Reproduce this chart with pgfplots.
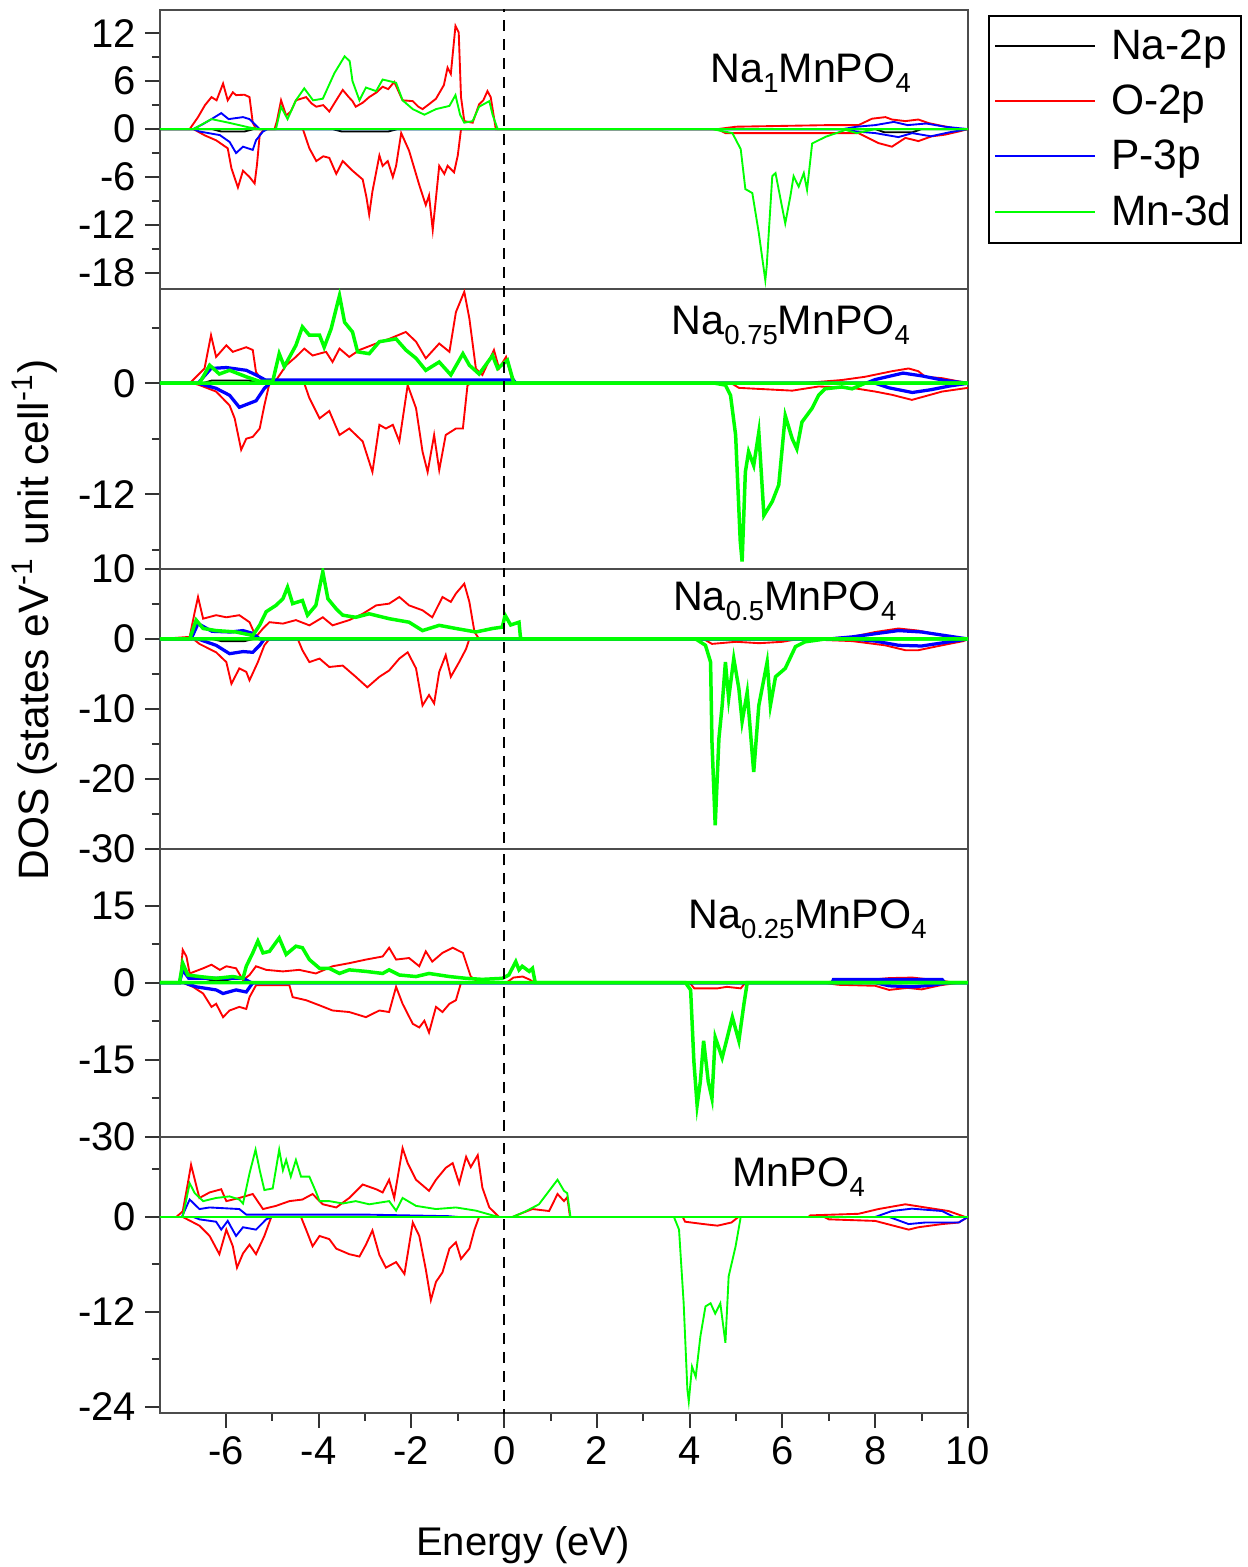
\documentclass[border=0pt]{standalone}
\usepackage{pgfplots}
\pgfplotsset{compat=1.18}
\usepackage{fontspec}
\setmainfont{Liberation Sans}
\definecolor{dgreen}{RGB}{0,255,0}
\definecolor{dred}{RGB}{255,0,0}
\definecolor{dblue}{RGB}{0,0,255}
\tikzset{
  rd/.style={color=dred, line width=0.75pt},
  bl/.style={color=dblue, line width=0.75pt},
  blT/.style={color=dblue, line width=1.3pt},
  gr/.style={color=dgreen, line width=0.75pt},
  grT/.style={color=dgreen, line width=1.4pt},
  bk/.style={color=black, line width=0.75pt},
}
\pgfplotsset{
  dos/.style={scale only axis, width=323.2pt, xmin=-7.42, xmax=10,
    axis line style={black!70, line width=1pt},
    tick style={black!80, line width=0.8pt},
    tick align=outside, major tick length=6pt, minor tick length=3.2pt,
    ytick pos=left, xtick pos=left,
    minor y tick num=1,
    tick label style={font=\fontsize{16}{19}\selectfont},
    /pgf/number format/assume math mode=true,
    anchor=south west,
    xtick=\empty,
  },
}
\newcommand{\zeroline}{\draw[black, line width=0.8pt, dash pattern=on 4.4pt off 3.2pt] (axis cs:0,-40) -- (axis cs:0,40);}
\newcommand{\lab}[3]{\node[font=\fontsize{16.5}{19}\selectfont] at (axis cs:#1,#2) {#3};}
\newcommand{\sub}[1]{\raisebox{-0.45ex}{\fontsize{11}{12}\selectfont #1}}
\begin{document}
\begin{tikzpicture}
\path[use as bounding box] (0,0) rectangle (499.2pt,626.8pt);

% ---------------- Panel 1: Na1MnPO4
\begin{axis}[dos, at={(64pt,511.2pt)}, height=111.6pt, ymin=-20, ymax=14.9,
  ytick={-18,-12,-6,0,6,12},
  legend style={at={(1,1)}, anchor=north west, xshift=8pt, yshift=-2pt, draw=black, line width=0.8pt,
    font=\fontsize{17}{20}\selectfont, inner xsep=2pt, inner ysep=3.5pt, row sep=4.6pt, cells={anchor=west}},
  legend image code/.code={\draw[#1, line width=0.8pt] (0pt,0pt) -- (40pt,0pt); \path (44pt,0pt);}]
\addlegendimage{black}\addlegendentry{Na-2p}
\addlegendimage{dred}\addlegendentry{O-2p}
\addlegendimage{dblue}\addlegendentry{P-3p}
\addlegendimage{dgreen}\addlegendentry{Mn-3d}
\addplot[bk] coordinates {(-7.42,0)(-6.3,0)(-6.1,-0.3)(-5.6,-0.3)(-5.4,0)(-3.7,0)(-3.5,-0.3)(-2.5,-0.3)(-2.3,0)(8.0,0)(8.2,-0.4)(8.8,-0.4)(9.0,0)(10,0)};
\addplot[rd] coordinates {(-7.42,0)(-6.78,0)(-6.6,1.5)(-6.45,3.0)(-6.31,4.0)(-6.2,3.6)(-6.06,5.7)(-5.96,3.6)(-5.85,4.6)(-5.78,4.25)(-5.6,4.3)(-5.49,4.0)(-5.42,0.8)(-5.35,0)(-4.95,0)(-4.9,1.0)(-4.81,3.6)(-4.70,1.7)(-4.6,2.2)(-4.49,3.6)(-4.27,4.0)(-4.15,3.2)(-4.05,2.8)(-3.9,3.0)(-3.77,2.2)(-3.6,3.8)(-3.48,4.9)(-3.35,4.0)(-3.27,3.5)(-3.2,2.8)(-3.05,3.3)(-2.91,4.0)(-2.75,4.6)(-2.62,5.3)(-2.5,5.0)(-2.37,5.9)(-2.19,3.6)(-1.97,3.5)(-1.85,2.8)(-1.76,2.5)(-1.6,3.2)(-1.47,3.8)(-1.3,5.5)(-1.22,7.7)(-1.15,6.9)(-1.05,12.9)(-0.98,12.1)(-0.93,4.0)(-0.86,1.0)(-0.68,0.8)(-0.54,3.1)(-0.45,3.6)(-0.36,4.75)(-0.29,4.0)(-0.18,0)(4.6,0)(5,0.3)(6,0.4)(7,0.5)(7.64,0.5)(7.93,1.3)(8.22,1.5)(8.36,1.2)(8.65,1.0)(8.93,1.2)(9.15,0.75)(9.44,0.4)(9.8,0)(10,0)};
\addplot[rd] coordinates {(-7.42,0)(-6.7,0)(-6.45,-0.8)(-6.21,-1.4)(-5.96,-2.4)(-5.88,-4.9)(-5.74,-7.3)(-5.63,-5.2)(-5.49,-6.0)(-5.38,-6.8)(-5.33,-4.5)(-5.27,-0.7)(-5.17,0)(-4.34,0)(-4.20,-2.4)(-4.05,-4.0)(-3.9,-3.4)(-3.77,-3.6)(-3.62,-5.6)(-3.48,-4.0)(-3.27,-5.2)(-3.05,-6.3)(-2.97,-8.5)(-2.91,-10.7)(-2.84,-7.8)(-2.69,-3.3)(-2.62,-4.6)(-2.51,-4.0)(-2.40,-6.0)(-2.33,-4.6)(-2.22,-0.5)(-2.05,-2.7)(-1.83,-7.0)(-1.69,-9.5)(-1.62,-8.3)(-1.54,-12.6)(-1.47,-8.6)(-1.40,-4.6)(-1.29,-5.6)(-1.22,-4.6)(-1.08,-5.4)(-1.0,-3.3)(-0.93,0)(4.6,0)(4.77,-0.5)(6.21,-0.5)(7.64,-0.5)(8.07,-1.75)(8.36,-2.2)(8.65,-1.1)(8.93,-1.5)(9.22,-0.9)(9.5,-0.7)(9.8,-0.3)(10,0)};
\addplot[bl] coordinates {(-7.42,0)(-6.7,0)(-6.5,0.6)(-6.31,1.25)(-6.10,2.0)(-5.94,1.25)(-5.63,1.5)(-5.49,1.25)(-5.27,0)(7.3,0)(7.6,0.3)(8.0,0.5)(8.4,0.9)(8.7,0.5)(9.1,0.7)(9.5,0.3)(10,0)};
\addplot[bl] coordinates {(-7.42,0)(-6.7,0)(-6.57,-0.3)(-6.13,-0.75)(-5.92,-1.6)(-5.78,-3.0)(-5.63,-2.2)(-5.42,-2.6)(-5.35,-1.4)(-5.2,-0.3)(-5.1,0)(7.3,0)(7.6,-0.3)(8.0,-0.5)(8.5,-1.0)(8.8,-0.5)(9.2,-0.9)(9.6,-0.4)(10,0)};
\addplot[gr] coordinates {(-7.42,0)(-6.7,0)(-6.31,1.25)(-5.94,0.8)(-5.49,0.2)(-5.27,0)(-4.92,0)(-4.81,2.8)(-4.67,1.25)(-4.49,3.6)(-4.31,5.1)(-4.12,3.6)(-3.91,3.8)(-3.66,7.0)(-3.44,9.1)(-3.33,8.5)(-3.27,6.0)(-3.12,3.6)(-2.98,5.2)(-2.76,4.75)(-2.62,6.2)(-2.33,5.8)(-2.19,3.6)(-1.97,2.5)(-1.72,1.8)(-1.47,2.5)(-1.18,2.9)(-1.05,4.25)(-0.95,1.8)(-0.86,0.8)(-0.68,1.0)(-0.54,2.8)(-0.32,3.5)(-0.25,1.8)(-0.14,0)(10,0)};
\addplot[gr] coordinates {(-7.42,0)(4.48,0)(4.92,-0.5)(5.10,-2.5)(5.20,-7.5)(5.35,-8.0)(5.49,-13.0)(5.63,-18.9)(5.66,-17.2)(5.78,-5.9)(5.85,-5.5)(6.06,-11.8)(6.17,-8.4)(6.24,-5.9)(6.35,-7.2)(6.46,-5.5)(6.53,-7.6)(6.64,-1.8)(6.93,-0.96)(7.36,-0.1)(7.6,-0.5)(8.0,0)(10,0)};
\zeroline
\lab{6.61}{7.0}{Na\sub{1}MnPO\sub{4}}
\end{axis}

% ---------------- Panel 2: Na0.75MnPO4
\begin{axis}[dos, at={(64pt,399.2pt)}, height=112pt, ymin=-20.1, ymax=10.2,
  ytick={-24,-12,0,12}]
\addplot[bk] coordinates {(-7.42,0)(-6.5,0)(-6.3,0.3)(-5.5,0.3)(-5.3,0)(10,0)};
\addplot[rd] coordinates {(-7.42,0)(-6.78,0)(-6.46,1.6)(-6.32,5.2)(-6.21,2.85)(-5.99,4.1)(-5.85,3.4)(-5.56,3.9)(-5.42,3.6)(-5.35,1.2)(-5.2,0.2)(-4.92,0.3)(-4.70,1.95)(-4.49,2.85)(-4.31,3.75)(-4.13,3.0)(-3.84,3.4)(-3.70,2.3)(-3.55,3.75)(-3.34,2.85)(-3.12,3.6)(-2.76,4.3)(-2.48,4.8)(-2.12,5.55)(-1.90,4.5)(-1.69,2.7)(-1.40,4.3)(-1.18,3.4)(-1.04,7.7)(-0.86,9.9)(-0.75,7.0)(-0.61,1.6)(-0.47,0.9)(-0.22,3.6)(-0.11,1.6)(0.04,2.85)(0.19,0)(6.42,0)(7.28,0.35)(7.78,0.7)(8.36,1.3)(8.72,1.6)(8.93,1.3)(9.08,0.7)(9.44,0.55)(9.8,0.2)(10,0)};
\addplot[rd] coordinates {(-7.42,0)(-6.7,0)(-6.57,-0.2)(-6.21,-0.9)(-5.92,-2.4)(-5.81,-3.8)(-5.67,-7.2)(-5.56,-6.0)(-5.42,-5.8)(-5.27,-4.9)(-5.17,-2.4)(-5.06,0)(-4.31,0)(-4.20,-1.6)(-3.98,-3.8)(-3.77,-3.0)(-3.55,-5.6)(-3.34,-4.9)(-3.05,-6.3)(-2.84,-9.6)(-2.69,-4.5)(-2.55,-4.9)(-2.40,-4.5)(-2.26,-6.3)(-2.08,-0.2)(-1.90,-2.7)(-1.76,-7.4)(-1.65,-9.6)(-1.51,-5.6)(-1.40,-9.4)(-1.26,-5.6)(-1.04,-4.9)(-0.89,-4.9)(-0.79,-0.2)(-0.7,0)(4.9,0)(5.06,-0.5)(6.21,-0.8)(6.78,-0.35)(7.5,-0.5)(8.0,-0.9)(8.36,-1.25)(8.79,-1.8)(9.08,-1.4)(9.44,-0.9)(10,-0.5)};
\addplot[blT] coordinates {(-7.42,0)(-6.6,0)(-6.32,1.6)(-5.99,1.7)(-5.56,1.4)(-5.35,0.9)(-5.15,0.36)(0.2,0.36)(0.25,0)(7.8,0)(8.0,0.4)(8.6,1.1)(9.0,0.8)(9.5,0.3)(10,0)};
\addplot[blT] coordinates {(-7.42,0)(-6.6,0)(-6.21,-0.55)(-5.92,-1.3)(-5.71,-2.6)(-5.35,-1.9)(-5.17,-0.55)(-5.05,0)(8.0,0)(8.3,-0.5)(8.8,-1.0)(9.2,-0.7)(9.6,-0.3)(10,0)};
\addplot[grT] coordinates {(-7.42,0)(-6.57,0)(-6.35,1.95)(-6.14,1.0)(-5.92,1.4)(-5.56,0.7)(-5.27,0.2)(-4.99,0.2)(-4.85,3.2)(-4.74,1.8)(-4.49,4.1)(-4.35,6.1)(-4.20,5.2)(-3.98,5.2)(-3.88,3.9)(-3.73,5.9)(-3.55,9.5)(-3.44,6.6)(-3.27,5.55)(-3.16,3.4)(-2.91,3.2)(-2.69,4.5)(-2.33,4.8)(-2.12,3.6)(-1.90,2.7)(-1.69,1.4)(-1.40,2.3)(-1.15,0.9)(-0.89,3.2)(-0.75,1.95)(-0.54,1.0)(-0.25,3.0)(-0.14,1.6)(0.07,2.5)(0.21,0)(10,0)};
\addplot[grT] coordinates {(-7.42,0)(4.55,0)(4.77,-0.2)(4.88,-1.3)(4.99,-5.6)(5.09,-17.1)(5.13,-19.3)(5.20,-9.6)(5.27,-7.4)(5.38,-8.9)(5.49,-5.3)(5.60,-14.3)(5.78,-12.8)(5.92,-11.0)(6.06,-3.5)(6.21,-6.0)(6.31,-7.1)(6.42,-4.2)(6.64,-2.7)(6.78,-1.3)(6.92,-0.6)(7.28,-0.4)(7.50,-0.6)(7.78,0)(10,0)};
\zeroline
\lab{6.18}{6.3}{Na\sub{0.75}MnPO\sub{4}}
\end{axis}

% ---------------- Panel 3: Na0.5MnPO4
\begin{axis}[dos, at={(64pt,287.2pt)}, height=112pt, ymin=-30, ymax=10,
  ytick={-30,-20,-10,0,10}]
\addplot[bk] coordinates {(-7.42,0)(-6.3,0)(-6.1,-0.3)(-5.6,-0.3)(-5.4,0)(10,0)};
\addplot[rd] coordinates {(-7.42,0)(-6.78,0.3)(-6.67,3.9)(-6.60,6.0)(-6.49,2.9)(-6.21,3.4)(-5.99,3.1)(-5.71,3.4)(-5.49,2.4)(-5.35,0.3)(-5.2,1.5)(-5.06,2.4)(-4.77,2.2)(-4.49,2.7)(-4.20,1.95)(-3.91,3.1)(-3.70,1.95)(-3.34,2.7)(-3.05,3.6)(-2.76,4.8)(-2.48,5.05)(-2.26,6.0)(-2.05,4.8)(-1.76,4.1)(-1.55,3.1)(-1.33,6.0)(-1.15,5.3)(-1.04,6.5)(-0.86,7.9)(-0.75,5.3)(-0.64,1.0)(-0.54,0)(6.78,0)(7.5,0.3)(8.0,1.0)(8.5,1.5)(8.93,1.2)(9.44,0.5)(9.9,0)(10,0)};
\addplot[rd] coordinates {(-7.42,0)(-6.7,0)(-6.57,-0.7)(-6.21,-1.9)(-5.99,-3.3)(-5.88,-6.4)(-5.71,-4.2)(-5.56,-4.7)(-5.49,-5.9)(-5.31,-3.3)(-5.17,-0.9)(-5.06,0)(-4.45,0)(-4.35,-1.6)(-4.20,-3.3)(-3.98,-2.8)(-3.77,-4.0)(-3.48,-3.8)(-3.20,-5.4)(-2.95,-6.9)(-2.69,-5.4)(-2.48,-4.5)(-2.26,-2.8)(-2.08,-1.9)(-1.90,-4.2)(-1.76,-9.5)(-1.62,-8.0)(-1.51,-9.2)(-1.40,-4.7)(-1.26,-2.3)(-1.15,-5.4)(-0.97,-3.3)(-0.82,-1.4)(-0.75,0)(4.3,0)(4.48,-0.7)(5.0,-0.4)(5.5,-0.6)(6.0,-0.4)(6.35,0)(7.5,-0.3)(8.21,-0.9)(8.65,-1.6)(8.93,-1.6)(9.44,-0.9)(9.9,-0.3)(10,0)};
\addplot[blT] coordinates {(-7.42,0)(-6.75,0)(-6.6,2.2)(-6.3,1.1)(-5.9,1.0)(-5.63,1.2)(-5.42,0.8)(-5.27,0)(7.0,0)(7.5,0.3)(8.5,1.2)(9.0,1.0)(9.5,0.5)(10,0)};
\addplot[blT] coordinates {(-7.42,0)(-6.6,0)(-6.21,-0.9)(-5.92,-2.1)(-5.63,-1.8)(-5.42,-1.9)(-5.27,-0.9)(-5.17,0)(7.5,0)(8.0,-0.3)(8.5,-0.9)(9.0,-1.0)(9.5,-0.5)(10,0)};
\addplot[grT] coordinates {(-7.42,0)(-6.78,0)(-6.64,2.7)(-6.49,1.5)(-6.21,1.2)(-5.78,1.0)(-5.42,0.5)(-5.27,2.0)(-5.13,3.9)(-4.92,4.8)(-4.77,5.75)(-4.67,7.4)(-4.56,5.05)(-4.35,5.5)(-4.24,3.4)(-4.06,4.8)(-3.91,9.6)(-3.80,5.75)(-3.62,4.3)(-3.48,3.4)(-3.20,3.1)(-2.91,3.6)(-2.48,2.9)(-2.05,2.4)(-1.76,1.2)(-1.40,1.95)(-1.04,1.5)(-0.61,1.0)(-0.25,1.5)(-0.04,1.7)(0.02,3.4)(0.14,2.0)(0.32,2.4)(0.35,0.3)(0.37,0)(10,0)};
\addplot[grT] coordinates {(-7.42,0)(4.13,0)(4.34,-0.9)(4.45,-3.3)(4.48,-14.7)(4.55,-26.6)(4.63,-14.2)(4.70,-9.5)(4.77,-3.3)(4.84,-8.5)(4.95,-2.8)(5.06,-7.1)(5.13,-11.8)(5.24,-7.6)(5.38,-19.0)(5.49,-9.5)(5.67,-3.3)(5.74,-9.5)(5.85,-5.4)(6.06,-4.2)(6.28,-1.1)(6.49,-0.4)(6.92,0)(10,0)};
\zeroline
\lab{6.05}{5.4}{Na\sub{0.5}MnPO\sub{4}}
\end{axis}

% ---------------- Panel 4: Na0.25MnPO4
\begin{axis}[dos, at={(64pt,172pt)}, height=115.2pt, ymin=-30, ymax=26,
  ytick={-30,-15,0,15}]
\addplot[bk] coordinates {(-7.42,0)(-6.5,0)(-6.3,0.4)(-6.0,0.4)(-5.8,0)(10,0)};
\addplot[rd] coordinates {(-7.42,0)(-6.99,0)(-6.93,6.4)(-6.85,5.1)(-6.78,1.8)(-6.49,2.8)(-6.31,3.5)(-6.13,2.5)(-5.99,3.2)(-5.78,2.8)(-5.63,0.5)(-5.49,1.5)(-5.35,3.2)(-5.13,2.5)(-4.77,2.2)(-4.42,2.5)(-4.06,1.8)(-3.70,3.2)(-3.34,3.8)(-2.98,4.5)(-2.62,5.1)(-2.48,6.8)(-2.33,4.5)(-2.05,4.8)(-1.83,3.2)(-1.69,6.1)(-1.55,4.1)(-1.33,5.8)(-1.11,6.8)(-0.89,5.8)(-0.72,1.2)(-0.54,0)(0.05,0)(0.2,1.0)(0.4,1.2)(0.55,0.6)(0.65,0)(6.9,0)(7.2,0.4)(7.8,0.5)(8.3,0.9)(8.8,1.0)(9.2,0.6)(9.5,0.3)(9.7,0)(10,0)};
\addplot[rd] coordinates {(-7.42,0)(-6.93,0)(-6.71,-0.8)(-6.49,-2.1)(-6.31,-4.7)(-6.21,-4.1)(-6.06,-6.7)(-5.92,-5.4)(-5.71,-4.7)(-5.56,-5.1)(-5.49,-2.8)(-5.35,-0.5)(-4.63,-0.5)(-4.56,-2.8)(-4.27,-3.4)(-3.98,-4.4)(-3.70,-5.4)(-3.34,-5.7)(-2.98,-6.7)(-2.69,-5.4)(-2.48,-5.7)(-2.33,-0.8)(-2.19,-4.1)(-1.97,-8.0)(-1.83,-8.7)(-1.72,-7.4)(-1.62,-9.7)(-1.47,-4.7)(-1.33,-5.7)(-1.18,-4.1)(-1.04,-3.4)(-0.93,0)(4.0,0)(4.1,-1.1)(4.6,-1.1)(4.8,-0.8)(5.1,-1.1)(5.2,0)(6.9,0)(7.2,-0.4)(8.0,-0.6)(8.3,-1.4)(8.7,-1.0)(9.0,-1.3)(9.4,-0.5)(9.8,0)(10,0)};
\addplot[blT] coordinates {(-7.42,0)(-7.0,0)(-6.93,2.5)(-6.8,0.85)(-6.2,0.85)(-5.63,0.85)(-5.45,0)(7.07,0)(7.1,0.65)(9.44,0.65)(9.5,0)(10,0)};
\addplot[blT] coordinates {(-7.42,0)(-6.9,0)(-6.64,-0.8)(-6.21,-1.4)(-6.06,-2.1)(-5.78,-1.4)(-5.56,-1.8)(-5.42,0)(8.0,0)(8.3,-0.6)(8.8,-0.8)(9.2,-0.5)(9.6,0)(10,0)};
\addplot[grT] coordinates {(-7.42,0)(-7.0,0)(-6.93,3.8)(-6.82,1.5)(-6.57,1.2)(-6.21,0.85)(-5.85,1.2)(-5.63,0.85)(-5.56,3.2)(-5.42,5.8)(-5.31,8.1)(-5.20,5.8)(-5.06,6.1)(-4.85,8.7)(-4.70,5.5)(-4.49,7.1)(-4.35,6.8)(-4.20,4.5)(-3.98,2.8)(-3.77,2.8)(-3.55,1.8)(-3.34,2.5)(-2.98,2.2)(-2.62,1.8)(-2.48,2.5)(-2.26,1.5)(-1.90,1.2)(-1.62,1.8)(-1.18,1.2)(-0.82,0.85)(-0.47,0.65)(-0.04,0.85)(0.10,1.5)(0.25,4.1)(0.32,2.5)(0.39,3.2)(0.54,2.2)(0.61,2.8)(0.67,0)(10,0)};
\addplot[grT] coordinates {(-7.42,0)(3.91,0)(4.02,-1.4)(4.09,-15.3)(4.16,-23.8)(4.23,-19.2)(4.30,-11.3)(4.40,-19.2)(4.48,-22.5)(4.55,-10.6)(4.70,-14.6)(4.92,-6.7)(5.06,-11.3)(5.17,-4.1)(5.24,0)(10,0)};
\zeroline
\lab{6.54}{12.4}{Na\sub{0.25}MnPO\sub{4}}
\end{axis}

% ---------------- Panel 5: MnPO4
\begin{axis}[dos, at={(64pt,61.6pt)}, height=110.4pt, ymin=-24.76, ymax=10.1,
  ytick={-24,-12,0,12},
  xtick={-6,-4,-2,0,2,4,6,8,10}, minor x tick num=1]
\addplot[rd] coordinates {(-7.42,0)(-7.07,0)(-6.93,0.7)(-6.82,4.25)(-6.75,6.6)(-6.67,4.7)(-6.57,2.4)(-6.35,3.1)(-6.10,3.5)(-5.99,2.0)(-5.71,2.4)(-5.42,2.9)(-5.20,1.0)(-4.92,1.4)(-4.63,2.0)(-4.35,2.2)(-4.13,2.9)(-3.91,1.6)(-3.62,1.2)(-3.34,2.4)(-3.05,4.1)(-2.76,3.5)(-2.62,3.1)(-2.48,4.7)(-2.37,2.4)(-2.19,8.7)(-2.08,6.8)(-1.90,4.7)(-1.62,3.3)(-1.47,4.7)(-1.26,6.2)(-1.11,6.8)(-0.97,4.25)(-0.82,7.6)(-0.72,6.3)(-0.57,7.8)(-0.47,3.7)(-0.32,1.2)(-0.11,0)(0.18,0)(0.39,0.5)(0.61,1.0)(0.97,0.75)(1.15,2.9)(1.29,2.0)(1.36,2.5)(1.42,0)(6.56,0)(6.6,0.2)(7.64,0.4)(8.07,1.0)(8.65,1.6)(9.08,1.2)(9.58,0.75)(9.94,0)(10,0)};
\addplot[rd] coordinates {(-7.42,0)(-6.93,0)(-6.57,-1.1)(-6.35,-2.4)(-6.14,-4.7)(-5.99,-1.6)(-5.85,-3.7)(-5.76,-6.4)(-5.63,-4.6)(-5.49,-3.5)(-5.35,-4.7)(-5.17,-2.4)(-5.02,0)(-4.38,0)(-4.27,-1.6)(-4.13,-3.7)(-3.98,-2.4)(-3.77,-2.8)(-3.62,-4.0)(-3.34,-4.7)(-3.12,-5.0)(-2.98,-3.5)(-2.84,-1.7)(-2.69,-4.8)(-2.55,-6.4)(-2.33,-5.7)(-2.15,-7.2)(-1.97,-0.7)(-1.83,-2.4)(-1.69,-6.6)(-1.58,-10.5)(-1.47,-8.2)(-1.33,-7.0)(-1.18,-4.0)(-1.04,-3.2)(-0.93,-5.3)(-0.75,-4.0)(-0.64,-1.6)(-0.54,0)(3.85,0)(3.9,-0.6)(4.3,-0.9)(4.6,-1.1)(4.9,-0.7)(5.05,0)(6.9,0)(7.0,-0.3)(8.0,-0.5)(8.72,-1.6)(8.93,-1.3)(9.44,-0.9)(9.8,-0.7)(10,0)};
\addplot[bl] coordinates {(-7.42,0)(-6.95,0)(-6.78,2.2)(-6.57,1.0)(-6.35,1.2)(-5.71,1.0)(-5.56,0.3)(-3.0,0.3)(-1.2,0.1)(-1.0,0)(8.0,0)(8.36,0.75)(8.79,1.05)(9.44,0.75)(9.7,0)(10,0)};
\addplot[bl] coordinates {(-7.42,0)(-6.7,0)(-6.57,-0.3)(-6.21,-0.6)(-6.10,-1.6)(-5.96,-0.5)(-5.78,-2.4)(-5.63,-1.3)(-5.35,-1.6)(-5.13,-0.3)(-5.0,0)(8.3,0)(8.72,-0.9)(9.08,-0.7)(9.8,-0.7)(10,0)};
\addplot[gr] coordinates {(-7.42,0)(-6.93,0)(-6.78,4.25)(-6.67,3.0)(-6.49,2.0)(-6.21,2.4)(-5.92,2.6)(-5.71,2.2)(-5.63,1.7)(-5.49,5.5)(-5.36,8.5)(-5.27,5.9)(-5.17,3.4)(-4.99,3.6)(-4.85,8.5)(-4.77,5.9)(-4.70,7.2)(-4.60,5.1)(-4.49,7.2)(-4.38,5.1)(-4.20,5.1)(-4.06,3.2)(-3.98,2.0)(-3.77,2.0)(-3.48,1.7)(-3.20,2.0)(-2.91,1.6)(-2.48,2.0)(-2.33,0.8)(-2.19,2.4)(-1.90,1.4)(-1.47,1.0)(-1.04,1.2)(-0.61,0.8)(-0.25,0.2)(-0.1,0)(0.18,0)(0.46,0.7)(0.75,1.6)(1.15,4.7)(1.29,3.3)(1.36,3.0)(1.43,0)(10,0)};
\addplot[gr] coordinates {(-7.42,0)(3.66,0)(3.77,-1.6)(3.87,-10.9)(3.95,-21.8)(3.98,-23.3)(4.05,-18.9)(4.13,-20.2)(4.23,-15.1)(4.34,-11.3)(4.45,-10.9)(4.55,-12.2)(4.66,-10.9)(4.77,-15.9)(4.84,-7.5)(4.99,-3.7)(5.10,0)(10,0)};
\zeroline
\lab{6.35}{5.05}{MnPO\sub{4}}
\end{axis}

\node[rotate=90, font=\fontsize{17}{20}\selectfont] at (14pt,378.8pt) {DOS (states eV\textsuperscript{-1} unit cell\textsuperscript{-1})};
\node[font=\fontsize{16}{19}\selectfont] at (209.2pt,8.8pt) {Energy (eV)};
\end{tikzpicture}
\end{document}
